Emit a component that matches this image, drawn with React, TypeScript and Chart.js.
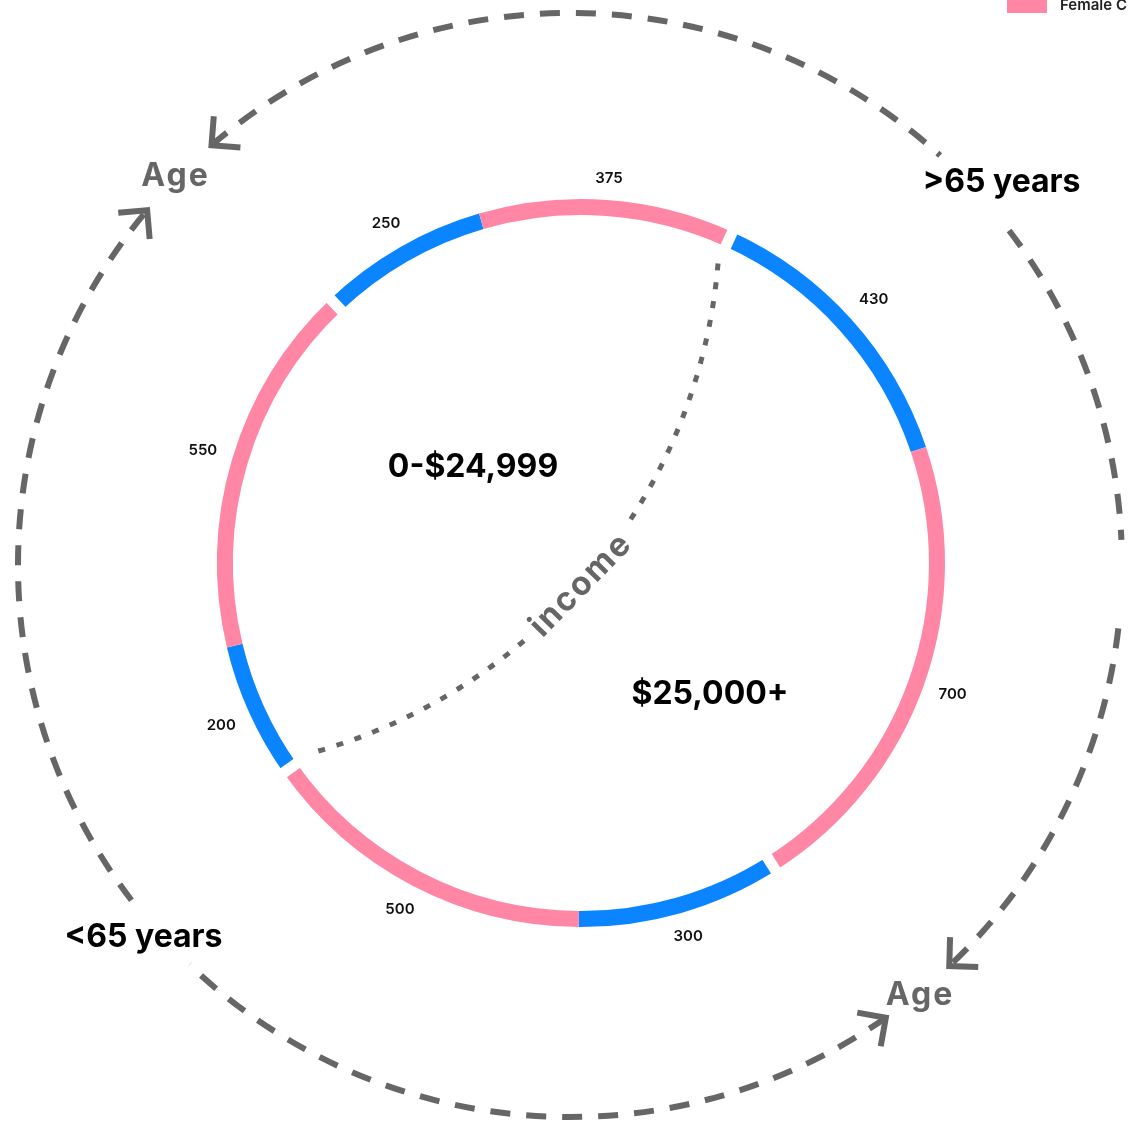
import React, { useEffect, useRef } from 'react';
import { Chart, registerables } from 'chart.js';

Chart.register(...registerables);

// ---------- data ----------
const segmentValues = [250, 375, 430, 700, 300, 500, 200, 550];
const segmentGender = ['Male', 'Female', 'Male', 'Female', 'Male', 'Female', 'Male', 'Female'];
const segmentAge = ['>65 years', '>65 years', '>65 years', '>65 years', '<65 years', '<65 years', '<65 years', '<65 years'];
const segmentIncome = ['0-$24,999', '0-$24,999', '$25,000+', '$25,000+', '$25,000+', '$25,000+', '0-$24,999', '0-$24,999'];
const legendLabels = ['Male Customers', 'Female Customers'];
const ageGroups = ['>65 years', '<65 years'];
const incomeGroups = ['0-$24,999', '$25,000+'];
const ageAxisTitle = 'Age';
const incomeAxisTitle = 'income';

// ---------- styles ----------
const BLUE = '#0A84FF';
const PINK = '#FF87A5';
const GREY = '#666666';
const INK = '#111111';
const FONT = 'Inter, "Noto Sans", "DejaVu Sans", sans-serif';

const W = 1128;
const H = 1127;

// outer dashed ring (relative to doughnut centre, pixels)
const outerRing = { dx: -11, dy: 2, r: 552 };
const outerSegments = [
  { from: -40.5, to: 42.1, arrow: 'start' },
  { from: 52.7, to: 87.4, arrow: '' },
  { from: 96.6, to: 136.6, arrow: 'end' },
  { from: 145.1, to: 223.6, arrow: 'start' },
  { from: 232.6, to: 310.0, arrow: 'end' },
];

const toCanvasAngle = (degFromTop: number) => ((degFromTop - 90) * Math.PI) / 180;

function circleFrom3(p1: any, p2: any, p3: any) {
  const ax = p1.x, ay = p1.y, bx = p2.x, by = p2.y, cx = p3.x, cy = p3.y;
  const d = 2 * (ax * (by - cy) + bx * (cy - ay) + cx * (ay - by));
  const a2 = ax * ax + ay * ay, b2 = bx * bx + by * by, c2 = cx * cx + cy * cy;
  const ux = (a2 * (by - cy) + b2 * (cy - ay) + c2 * (ay - by)) / d;
  const uy = (a2 * (cx - bx) + b2 * (ax - cx) + c2 * (bx - ax)) / d;
  return { x: ux, y: uy, r: Math.hypot(ax - ux, ay - uy) };
}

const decorPlugin = {
  id: 'decor',
  afterDatasetsDraw(chart: any) {
    const ctx: any = chart.ctx;
    const meta = chart.getDatasetMeta(0);
    const arcs: any[] = meta.data;
    if (!arcs.length) return;
    const cx = arcs[0].x;
    const cy = arcs[0].y;
    const R = arcs[0].outerRadius;
    const Ri = arcs[0].innerRadius;
    const polar = (a: number, r: number, ox = cx, oy = cy) => ({ x: ox + r * Math.cos(a), y: oy + r * Math.sin(a) });
    const n = arcs.length;

    ctx.save();

    // --- gaps between groups ---
    ctx.strokeStyle = '#ffffff';
    ctx.lineWidth = 11;
    ctx.lineCap = 'butt';
    for (let i = 0; i < n; i++) {
      const j = (i + 1) % n;
      if (segmentAge[i] !== segmentAge[j] || segmentIncome[i] !== segmentIncome[j]) {
        const a = arcs[i].endAngle;
        const p = polar(a, Ri - 3);
        const q = polar(a, R + 3);
        ctx.beginPath();
        ctx.moveTo(p.x, p.y);
        ctx.lineTo(q.x, q.y);
        ctx.stroke();
      }
    }

    // --- value labels ---
    ctx.fillStyle = INK;
    ctx.font = `600 15px ${FONT}`;
    ctx.textAlign = 'center';
    ctx.textBaseline = 'middle';
    arcs.forEach((arc, i) => {
      const mid = (arc.startAngle + arc.endAngle) / 2;
      const txt = String(segmentValues[i]);
      const hw = ctx.measureText(txt).width / 2;
      const r = R + 15 + Math.abs(Math.cos(mid)) * hw + Math.abs(Math.sin(mid)) * 6;
      const p = polar(mid, r);
      ctx.fillText(txt, p.x, p.y);
    });

    // --- income dotted curve ---
    const incomeBounds: number[] = [];
    for (let i = 0; i < n; i++) {
      const j = (i + 1) % n;
      if (segmentIncome[i] !== segmentIncome[j]) incomeBounds.push(arcs[i].endAngle);
    }
    if (incomeBounds.length === 2) {
      const P1 = polar(incomeBounds[0], R * 0.905);
      const P2 = polar(incomeBounds[1], R * 0.905);
      const B = { x: cx, y: cy + R * 0.06 };
      const c = circleFrom3(P1, B, P2);
      let a1 = Math.atan2(P1.y - c.y, P1.x - c.x);
      let aB = Math.atan2(B.y - c.y, B.x - c.x);
      let a2 = Math.atan2(P2.y - c.y, P2.x - c.x);
      while (aB < a1) aB += Math.PI * 2;
      while (a2 < aB) a2 += Math.PI * 2;
      const skip = 80 / c.r;
      ctx.strokeStyle = GREY;
      ctx.lineWidth = 5;
      ctx.setLineDash([7, 12]);
      ctx.beginPath();
      ctx.arc(c.x, c.y, c.r, a1, aB - skip, false);
      ctx.stroke();
      ctx.beginPath();
      ctx.arc(c.x, c.y, c.r, aB + skip, a2, false);
      ctx.stroke();
      ctx.setLineDash([]);

      ctx.save();
      ctx.translate(B.x, B.y);
      ctx.rotate(aB - Math.PI / 2 + 0.05);
      ctx.fillStyle = GREY;
      ctx.font = `700 33px ${FONT}`;
      ctx.letterSpacing = '2px';
      ctx.textAlign = 'center';
      ctx.textBaseline = 'middle';
      ctx.fillText(incomeAxisTitle, 0, 0);
      ctx.restore();
    }

    // --- income group labels ---
    ctx.fillStyle = '#000';
    ctx.font = `700 32px ${FONT}`;
    ctx.textAlign = 'center';
    ctx.textBaseline = 'middle';
    ctx.fillText(incomeGroups[0], cx - 108, cy - 96);
    ctx.fillText(incomeGroups[1], cx + 129, cy + 131);

    // --- outer dashed ring with arrows ---
    const ox = cx + outerRing.dx;
    const oy = cy + outerRing.dy;
    const orr = outerRing.r;
    ctx.strokeStyle = GREY;
    ctx.lineWidth = 6;
    outerSegments.forEach((s) => {
      const a0 = toCanvasAngle(s.from);
      const a1 = toCanvasAngle(s.to);
      ctx.setLineDash([20, 16]);
      ctx.lineCap = 'butt';
      ctx.beginPath();
      ctx.arc(ox, oy, orr, a0, a1, false);
      ctx.stroke();
      if (s.arrow) {
        const a = s.arrow === 'start' ? a0 : a1;
        const tip = polar(a, orr, ox, oy);
        const dir = s.arrow === 'start'
          ? { x: Math.sin(a), y: -Math.cos(a) }
          : { x: -Math.sin(a), y: Math.cos(a) };
        const back = { x: -dir.x, y: -dir.y };
        const rot = (v: any, t: number) => ({ x: v.x * Math.cos(t) - v.y * Math.sin(t), y: v.x * Math.sin(t) + v.y * Math.cos(t) });
        const L = 29;
        const e1 = rot(back, Math.PI / 4);
        const e2 = rot(back, -Math.PI / 4);
        ctx.setLineDash([]);
        ctx.lineJoin = 'miter';
        ctx.beginPath();
        ctx.moveTo(tip.x + e1.x * L, tip.y + e1.y * L);
        ctx.lineTo(tip.x, tip.y);
        ctx.lineTo(tip.x + e2.x * L, tip.y + e2.y * L);
        ctx.stroke();
      }
    });
    ctx.setLineDash([]);

    // outer texts
    const outerText = (txt: string, deg: number, r: number, color: string, spacing: string) => {
      const p = polar(toCanvasAngle(deg), r, ox, oy);
      ctx.fillStyle = color;
      ctx.letterSpacing = spacing;
      ctx.fillText(txt, p.x, p.y);
    };
    ctx.font = `700 32px ${FONT}`;
    ctx.textAlign = 'center';
    ctx.textBaseline = 'middle';
    outerText(ageAxisTitle, -45.4, 554, GREY, '2px');
    outerText(ageAxisTitle, 140.9, 555, GREY, '2px');
    outerText(ageGroups[0], 48.4, 577, '#000', '0px');
    outerText(ageGroups[1], 228.9, 566, '#000', '0px');
    ctx.letterSpacing = '0px';

    // --- legend (partly outside the frame) ---
    ctx.fillStyle = PINK;
    ctx.fillRect(1007, 0, 40, 13);
    ctx.fillStyle = '#222';
    ctx.font = `600 15px ${FONT}`;
    ctx.textAlign = 'left';
    ctx.textBaseline = 'middle';
    ctx.fillText(legendLabels[1], 1060, 5);

    ctx.restore();
  },
};

export default function App() {
  const ref = useRef<HTMLCanvasElement>(null);
  useEffect(() => {
    if (!ref.current) return;
    const chart = new Chart(ref.current, {
      type: 'doughnut',
      data: {
        labels: segmentValues.map((_, i) => `${segmentAge[i]} · ${segmentIncome[i]} · ${segmentGender[i]}`),
        datasets: [
          {
            data: segmentValues,
            backgroundColor: segmentGender.map((g) => (g === 'Male' ? BLUE : PINK)),
            borderWidth: 0,
          },
        ],
      },
      options: {
        responsive: false,
        maintainAspectRatio: false,
        animation: false,
        rotation: -43.5,
        cutout: '95.6%',
        layout: { padding: { left: 217, right: 183, top: 199, bottom: 200 } },
        plugins: { legend: { display: false }, tooltip: { enabled: false } },
      },
      plugins: [decorPlugin],
    } as any);
    return () => chart.destroy();
  }, []);
  return (
    <div style={{ position: 'fixed', left: 0, top: 0, width: W, height: H, overflow: 'hidden', background: '#fff' }}>
      <canvas ref={ref} width={W} height={H} style={{ display: 'block', width: W, height: H }} />
    </div>
  );
}
